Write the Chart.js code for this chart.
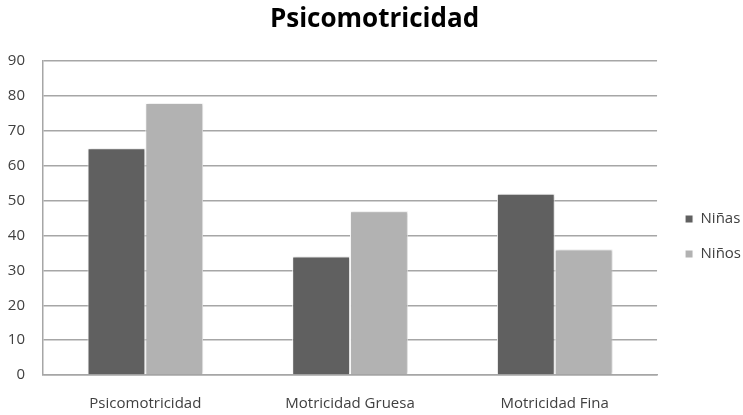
<!DOCTYPE html>
<html>
<head>
<meta charset="utf-8">
<script src="https://cdn.jsdelivr.net/npm/chart.js@4"></script>
<style>
  html, body { margin: 0; padding: 0; background: #fff; }
  #wrap { width: 743px; height: 415px; }
</style>
</head>
<body>
<div id="wrap"><canvas id="grafico"></canvas></div>
<script>
// datos
const categorias = ["Psicomotricidad", "Motricidad Gruesa", "Motricidad Fina"];
const ninas = [65, 34, 52];
const ninos = [78, 47, 36];
const ticksY = [0, 10, 20, 30, 40, 50, 60, 70, 80, 90];

const fuente = "'Open Sans', sans-serif";

// sombra suave detras de las barras
const sombraBarras = {
    id: "sombraBarras",
    beforeDatasetsDraw(chart) {
        const ctx = chart.ctx;
        ctx.save();
        ctx.shadowColor = "rgba(0,0,0,0.22)";
        ctx.shadowBlur = 3;
        ctx.shadowOffsetX = 1;
        ctx.shadowOffsetY = 0;
    },
    afterDatasetsDraw(chart) {
        chart.ctx.restore();
    }
};

// la leyenda queda un poco separada del area y algo mas abajo
const ajusteLeyenda = {
    id: "ajusteLeyenda",
    afterLayout(chart) {
        const lg = chart.legend;
        const dx = chart.chartArea.right + 8 - lg.left;
        lg.left += dx;
        lg.right += dx;
        lg.top += 28;
        lg.bottom += 28;
    }
};

const ctx = document.getElementById("grafico").getContext("2d");
const chart = new Chart(ctx, {
    type: "bar",
    data: {
        labels: categorias,
        datasets: [
            { label: "Niñas", data: ninas, backgroundColor: "#606060", borderColor: "#ffffff", borderWidth: 1 },
            { label: "Niños", data: ninos, backgroundColor: "#b2b2b2", borderColor: "#ffffff", borderWidth: 1 }
        ]
    },
    options: {
        responsive: true,
        maintainAspectRatio: false,
        animation: false,
        layout: { padding: { top: 4, right: 0, left: 6, bottom: 2 } },
        datasets: { bar: { categoryPercentage: 0.565, barPercentage: 1.0 } },
        plugins: {
            title: {
                display: true,
                text: "Psicomotricidad",
                color: "#000",
                font: { family: fuente, size: 26, weight: "bold" },
                padding: { top: 0, bottom: 26 }
            },
            legend: {
                position: "right",
                labels: {
                    boxWidth: 8,
                    boxHeight: 8,
                    padding: 20,
                    color: "#404040",
                    font: { family: fuente, size: 15 }
                }
            },
            tooltip: { enabled: false }
        },
        scales: {
            x: {
                grid: { display: false },
                border: { color: "#a6a6a6", width: 1.5 },
                ticks: { color: "#404040", font: { family: fuente, size: 15 }, padding: 12, maxRotation: 0 },
                afterFit(scale) { scale.height = 38; }
            },
            y: {
                min: 0,
                max: 90,
                afterBuildTicks(scale) { scale.ticks = ticksY.map(v => ({ value: v })); },
                grid: { color: "#a6a6a6", lineWidth: 1.5, drawTicks: false },
                border: { color: "#a6a6a6", width: 1.5 },
                ticks: { color: "#404040", font: { family: fuente, size: 15 }, padding: 18 },
                afterFit(scale) { scale.width = 37; }
            }
        }
    },
    plugins: [sombraBarras, ajusteLeyenda]
});
</script>
</body>
</html>
